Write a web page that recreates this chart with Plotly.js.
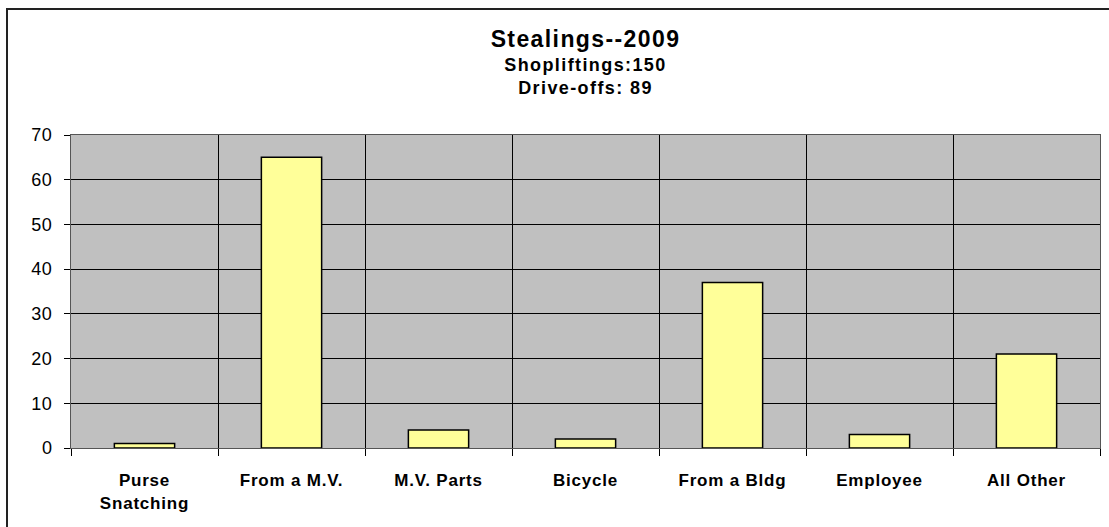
<!DOCTYPE html>
<html>
<head>
<meta charset="utf-8">
<script src="https://cdn.plot.ly/plotly-3.0.1.min.js"></script>
<style>
  body { margin: 0; background: #fff; }
  #wrap { position: relative; width: 1109px; height: 527px; overflow: hidden; }
  #frame { position: absolute; left: 6px; top: 8px; width: 1120px; height: 540px; border: 2px solid #222; box-sizing: border-box; pointer-events: none; }
  #chart { position: absolute; left: 0; top: 0; width: 1109px; height: 527px; }
  .gtitle { letter-spacing: 1.4px; }
  .xtick text { letter-spacing: 0.8px; }
  .ytick text { letter-spacing: 0.5px; }
</style>
</head>
<body>
<div id="wrap">
  <div id="chart"></div>
  <div id="frame"></div>
</div>
<script>
// stealings by type, 2009
const categories = ['Purse<br>Snatching', 'From a M.V.', 'M.V. Parts', 'Bicycle', 'From a Bldg', 'Employee', 'All Other'];
const counts = [1, 65, 4, 2, 37, 3, 21];
const yTicks = [0, 10, 20, 30, 40, 50, 60, 70];

const font = 'Liberation Sans, Arial, sans-serif';

const data = [{
  type: 'bar',
  x: categories,
  y: counts,
  marker: { color: '#FFFF99', line: { color: '#000', width: 1.5 } },
  hoverinfo: 'x+y',
}];

const layout = {
  width: 1109,
  height: 527,
  margin: { l: 71, r: 9, t: 135, b: 79 },
  paper_bgcolor: 'rgba(0,0,0,0)',
  plot_bgcolor: '#C0C0C0',
  bargap: 0.59,
  showlegend: false,
  font: { family: font, color: '#000' },
  title: {
    text: '<b><span style="font-size:23px">Stealings--2009</span></b><br><b>Shopliftings:150</b><br><b>Drive-offs: 89</b>',
    font: { family: font, size: 18, color: '#000' },
    x: 0.5,
    xref: 'paper',
    y: 0.91,
    yanchor: 'top',
  },
  xaxis: {
    type: 'category',
    tickson: 'boundaries',
    ticks: 'outside',
    ticklen: 7,
    tickcolor: '#000',
    showgrid: true,
    gridcolor: '#000',
    gridwidth: 1,
    showline: true,
    linecolor: '#555',
    mirror: true,
    ticklabelstandoff: 17,
    tickfont: { family: font, size: 17, color: '#000', weight: 'bold' },
    fixedrange: true,
  },
  yaxis: {
    range: [0, 70],
    tickvals: yTicks,
    ticks: 'outside',
    ticklen: 6,
    tickcolor: '#000',
    showgrid: true,
    gridcolor: '#000',
    gridwidth: 1,
    zeroline: false,
    showline: true,
    linecolor: '#555',
    mirror: true,
    ticklabelstandoff: 8,
    tickfont: { family: font, size: 18, color: '#000' },
    fixedrange: true,
  },
};

Plotly.newPlot('chart', data, layout, { displayModeBar: false, staticPlot: true });
</script>
</body>
</html>
